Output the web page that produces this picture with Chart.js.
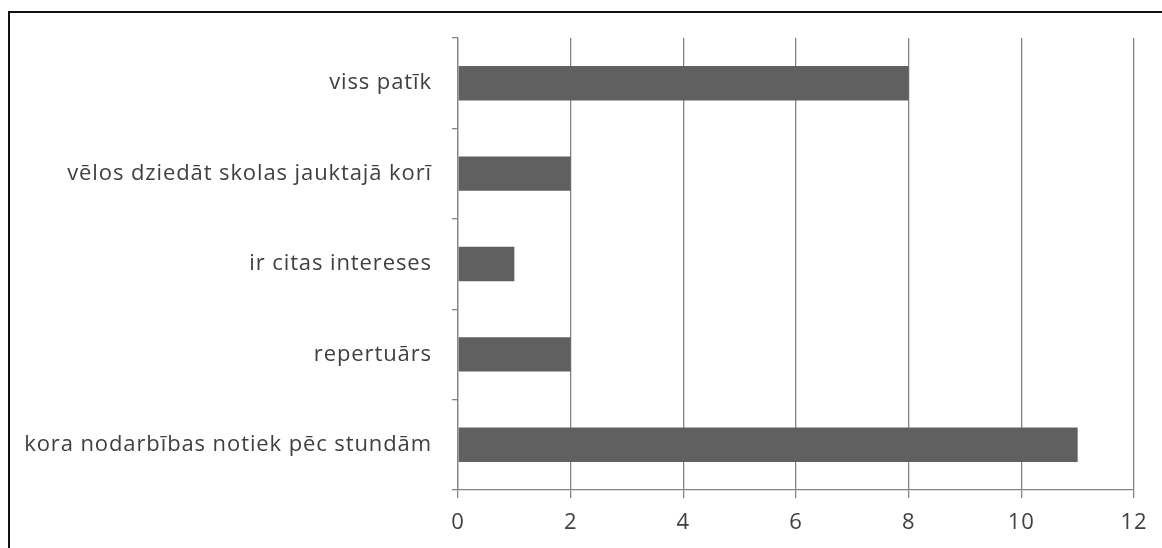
<!DOCTYPE html>
<html>
<head>
<meta charset="utf-8">
<script src="https://cdn.jsdelivr.net/npm/chart.js@4/dist/chart.umd.min.js"></script>
<style>
  html, body { margin: 0; padding: 0; background: #fff; }
  #wrap { position: relative; width: 1162px; height: 548px; overflow: hidden; }
  #frame { position: absolute; left: 8px; top: 11px; width: 1170px; height: 560px; border: 2px solid #111; box-sizing: border-box; }
  canvas { position: absolute; left: 0; top: 0; }
</style>
</head>
<body>
<div id="wrap">
  <div id="frame"></div>
  <canvas id="chart" width="1162" height="548"></canvas>
</div>
<script>
// survey answers, top to bottom as drawn
const categories = [
  "viss patīk",
  "vēlos dziedāt skolas jauktajā korī",
  "ir citas intereses",
  "repertuārs",
  "kora nodarbības notiek pēc stundām"
]
const counts = [8, 2, 1, 2, 11]
const xTicks = [0, 2, 4, 6, 8, 10, 12]

const labelFont = { family: "'Open Sans', 'DejaVu Sans', sans-serif", size: 22 }

// the original text is set a bit loose
const looseText = {
  id: "looseText",
  beforeUpdate: (chart) => { chart.ctx.letterSpacing = "0.9px" },
  beforeDraw: (chart) => { chart.ctx.letterSpacing = "0.9px" },
}

new Chart(document.getElementById("chart"), {
  type: "bar",
  data: {
    labels: categories,
    datasets: [
      {
        data: counts,
        backgroundColor: "#606060",
        borderWidth: 0,
        categoryPercentage: 1,
        barPercentage: 0.38,
      },
    ],
  },
  options: {
    indexAxis: "y",
    responsive: false,
    animation: false,
    layout: { padding: { top: 38, right: 28, left: 0, bottom: 0 } },
    plugins: {
      legend: { display: false },
      tooltip: { enabled: false },
    },
    scales: {
      x: {
        min: xTicks[0],
        max: xTicks[xTicks.length - 1],
        afterBuildTicks: (scale) => {
          scale.ticks = xTicks.map((v) => ({ value: v }))
        },
        ticks: { color: "#404040", font: labelFont, padding: 12 },
        grid: { color: "#858585", lineWidth: 1.3, tickLength: 8 },
        border: { color: "#858585", width: 1.3 },
        afterFit: (scale) => {
          scale.height = 548 - 490
        },
      },
      y: {
        ticks: { color: "#404040", font: labelFont, padding: 20 },
        grid: { drawOnChartArea: false, color: "#858585", lineWidth: 1.3, tickLength: 6, offset: true },
        border: { color: "#858585", width: 1.3 },
        afterFit: (scale) => {
          scale.width = 458
        },
      },
    },
  },
  plugins: [looseText],
})
</script>
</body>
</html>
